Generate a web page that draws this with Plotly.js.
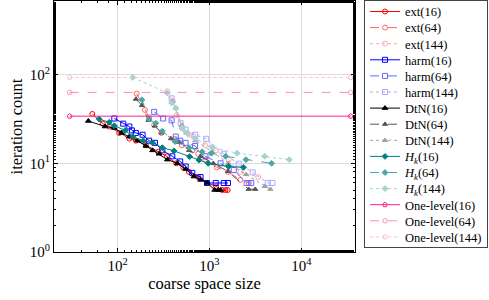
<!DOCTYPE html>
<html>
<head>
<meta charset="utf-8">
<script src="https://cdn.plot.ly/plotly-3.0.1.min.js"></script>
<style>html,body{margin:0;padding:0;background:#fff;}#chart{width:489px;height:300px;}</style>
</head>
<body>
<div id="chart"></div>
<script>
// ---- data ----
const ext16_x = [53, 69, 81, 104, 134, 158, 203, 278, 343, 436, 519, 598, 754, 944, 1180, 1374, 1493, 1580];
const ext16_y = [36, 28, 26, 22, 19, 18, 16, 13.5, 12, 10, 9, 8, 7, 6, 5.5, 5, 5, 5];
const ext64_x = [161, 198, 220, 250, 300, 411, 500, 650, 754, 900, 1200, 1590, 2170, 2680];
const ext64_y = [61, 40, 33, 27, 22, 18.7, 16, 14, 12.8, 11, 9, 8, 6.5, 6];
const ext144_x = [348, 400, 440, 500, 600, 676, 900, 1167, 1620, 2170, 3400];
const ext144_y = [65, 50, 35, 25, 21, 20, 16, 14, 11, 8, 7];

const harm16_x = [92, 115, 134, 143, 158, 187, 220, 255, 307, 394, 480, 551, 650, 800, 940, 1170, 1430, 1590];
const harm16_y = [32, 28, 26, 23.5, 22, 21, 18, 17, 14, 12, 10.5, 9.2, 7.8, 7, 6, 6, 6, 6];
const harm64_x = [250, 313, 387, 430, 480, 550, 697, 905, 1320, 1840, 2540, 2850];
const harm64_y = [38, 32, 30.5, 20, 18, 17, 15.7, 12, 10, 8.4, 6, 6];
const harm144_x = [387, 486, 550, 700, 922, 1430, 2080, 2960, 4300, 4850];
const harm144_y = [54, 28.3, 24, 21, 18.9, 12.8, 9.9, 7.9, 6, 6];

const dtn16_x = [48, 73, 92, 110, 134, 165, 203, 240, 283, 348, 447, 551, 677, 800, 950, 1140, 1250, 1320];
const dtn16_y = [30, 26, 25, 22, 20, 18, 15.7, 14, 12.8, 11, 10, 8.6, 7.1, 6.5, 6, 5, 5, 5];
const dtn64_x = [158, 184, 217, 254, 300, 380, 466, 600, 800, 1100, 1590, 2670, 3150];
const dtn64_y = [53, 45, 30.5, 26.4, 22, 19, 17.2, 14, 12, 10, 8.1, 5.1, 5.1];
const dtn144_x = [394, 430, 500, 560, 700, 1070, 1600, 2500, 4000, 4600];
const dtn144_y = [50, 42, 27, 22, 18, 13.5, 10, 7.5, 5.5, 5.1];

const hk16_x = [63, 81, 92, 121, 146, 190, 240, 307, 411, 608, 768, 967, 1615, 2350];
const hk16_y = [31.5, 29, 26.5, 23.5, 20, 18, 17, 15, 13.8, 11.9, 10.9, 10, 9.2, 9];
const hk64_x = [184, 220, 260, 307, 422, 600, 833, 1050, 1500, 2500, 4750];
const hk64_y = [52, 31.5, 28.3, 23, 17.6, 15, 13.5, 13, 12, 11, 10];
const hk144_x = [146, 348, 387, 430, 506, 574, 700, 1070, 2000, 4000, 7400];
const hk144_y = [93, 62, 48, 42, 25, 21.8, 19, 15.2, 13, 12, 11];

const one_x = [30, 34500];
const one16_y = [34, 34];
const one64_y = [63, 63];
const one144_y = [93, 93];

const xTickVals = [100, 1000, 10000];
const xTickText = ['10<sup>2</sup>', '10<sup>3</sup>', '10<sup>4</sup>'];
const yTickVals = [1, 10, 100];
const yTickText = ['10<sup>0</sup>', '10<sup>1</sup>', '10<sup>2</sup>'];

// ---- styling ----
const SERIF = '"Liberation Serif", "DejaVu Serif", serif';
function tr(name, x, y, color, dash, symbol, msize) {
  return {
    type: 'scatter', mode: 'lines+markers', name: name, x: x, y: y,
    line: {color: color, width: 1, dash: dash},
    marker: {symbol: symbol, size: msize, color: color, line: {color: color, width: 1}}
  };
}
const data = [
  tr('ext(16)', ext16_x, ext16_y, '#ff0000', 'solid', 'circle-open', 5),
  tr('ext(64)', ext64_x, ext64_y, '#ff6666', 'dash', 'circle-open', 5),
  tr('ext(144)', ext144_x, ext144_y, '#ffaaaa', 'dot', 'circle-open', 5),
  tr('harm(16)', harm16_x, harm16_y, '#0000ff', 'solid', 'square-open', 5),
  tr('harm(64)', harm64_x, harm64_y, '#6666ff', 'dash', 'square-open', 5),
  tr('harm(144)', harm144_x, harm144_y, '#aaaaff', 'dot', 'square-open', 5),
  tr('DtN(16)', dtn16_x, dtn16_y, '#000000', 'solid', 'triangle-up', 5),
  tr('DtN(64)', dtn64_x, dtn64_y, '#555555', 'dash', 'triangle-up', 4.5),
  tr('DtN(144)', dtn144_x, dtn144_y, '#a0a0a0', 'dot', 'triangle-up', 4.5),
  tr('<i>H</i><sub><i>k</i></sub>(16)', hk16_x, hk16_y, '#008080', 'solid', 'diamond', 4.5),
  tr('<i>H</i><sub><i>k</i></sub>(64)', hk64_x, hk64_y, '#4da6a6', 'dash', 'diamond', 4.5),
  tr('<i>H</i><sub><i>k</i></sub>(144)', hk144_x, hk144_y, '#a6d2d2', 'dot', 'diamond', 4.5),
  tr('One-level(16)', one_x, one16_y, '#ff1f94', 'solid', 'pentagon-open', 5),
  tr('One-level(64)', one_x, one64_y, '#ff8cc4', 'dash', 'pentagon-open', 5),
  tr('One-level(144)', one_x, one144_y, '#ffbcdb', 'dot', 'pentagon-open', 5)
];

const axisCommon = {
  type: 'log', showline: true, mirror: 'allticks', linecolor: '#000', linewidth: 1,
  ticks: 'inside', ticklen: 4, tickcolor: '#000',
  showgrid: true, gridcolor: '#dcdcdc', gridwidth: 1, zeroline: false,
  tickfont: {family: SERIF, size: 15, color: '#000'},
  minor: {ticks: 'inside', ticklen: 2, tickcolor: '#000', showgrid: false}
};

const layout = {
  width: 489, height: 300,
  margin: {l: 54, r: 132, t: 1, b: 48},
  paper_bgcolor: '#fff', plot_bgcolor: '#fff',
  font: {family: SERIF, color: '#000'},
  showlegend: true,
  xaxis: Object.assign({}, axisCommon, {
    range: [1.307, 4.585], tickvals: xTickVals, ticktext: xTickText,
    title: {text: 'coarse space size', font: {family: SERIF, size: 16.5, color: '#000'}, standoff: 4}
  }),
  yaxis: Object.assign({}, axisCommon, {
    range: [0, 2.83], tickvals: yTickVals, ticktext: yTickText,
    title: {text: 'iteration count', font: {family: SERIF, size: 16.5, color: '#000'}, standoff: 2}
  }),
  legend: {
    x: 1.03, xanchor: 'left', y: 0.998, yanchor: 'top',
    bordercolor: '#444', borderwidth: 1, bgcolor: '#fff',
    font: {family: SERIF, size: 12.5, color: '#000'},
    tracegroupgap: 0, maxheight: 300
  }
};

Plotly.newPlot('chart', data, layout, {displayModeBar: false, staticPlot: true}).then(function (gd) {
  // tighten legend row spacing to match the reference (pgfplots-style legend)
  const step = 16.1;
  const items = gd.querySelectorAll('.legend .traces');
  if (items.length < 2) return;
  const parse = function (el) {
    const m = /translate\(\s*([-\d.e]+)[ ,]+([-\d.e]+)\s*\)/.exec(el.getAttribute('transform') || '');
    return m ? [parseFloat(m[1]), parseFloat(m[2])] : null;
  };
  const bg = gd.querySelector('.legend .bg');
  const bgY = bg ? (parseFloat(bg.getAttribute('y')) || 0) : 0;
  const firstY = bgY + 11;
  items.forEach(function (el, i) {
    const p = parse(el);
    if (p) el.setAttribute('transform', 'translate(' + p[0] + ',' + (firstY + i * step) + ')');
  });
  if (bg) {
    bg.setAttribute('height', 22 + (items.length - 1) * step);
  }
});
</script>
</body>
</html>
